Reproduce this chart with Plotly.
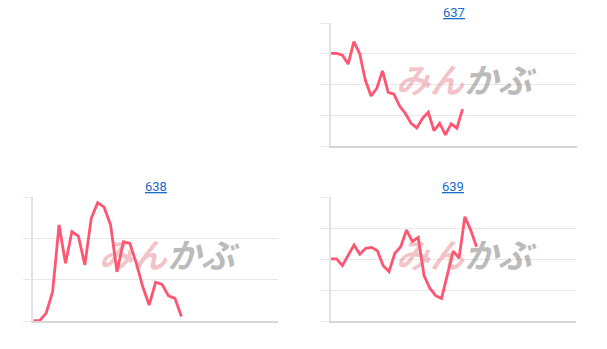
import plotly.graph_objects as go

W, H = 607, 349

titles = ["637", "638", "639"]

vals_637 = [3.02, 3.02, 2.96, 2.67, 3.40, 3.02, 2.15, 1.63, 1.88, 2.45, 1.75, 1.69,
            1.30, 1.06, 0.74, 0.59, 0.90, 1.10, 0.50, 0.74, 0.36, 0.72, 0.58, 1.20]
vals_638 = [0.01, 0.01, 0.19, 0.71, 2.33, 1.40, 2.17, 2.06, 1.36, 2.49, 2.87, 2.76,
            2.33, 1.19, 1.92, 1.88, 1.40, 0.83, 0.39, 0.94, 0.89, 0.61, 0.55, 0.11]
vals_639 = [2.01, 2.01, 1.79, 2.13, 2.46, 2.16, 2.35, 2.38, 2.27, 1.79, 1.60, 2.19,
            2.40, 2.94, 2.57, 2.70, 1.47, 1.06, 0.82, 0.73, 1.49, 2.26, 2.03, 3.37,
            2.94, 2.40]

series = [vals_637, vals_638, vals_639]
x_ranges = [[0, 43], [0, 38], [0, 42]]
y_ranges = [[0, 4], [0, 3], [0, 4]]

# pixel boxes (left, top, right, bottom)
boxes = [(331, 23.3, 577, 146), (33.3, 197.3, 278, 321), (330.7, 197.3, 575.7, 321)]

LINE = "#ff5570"
GRID = "#e8e8e8"

fig = go.Figure()
layout = dict(width=W, height=H, margin=dict(l=0, r=0, t=0, b=0),
              paper_bgcolor="white", plot_bgcolor="white", showlegend=False,
              font=dict(family="Roboto, Liberation Sans, Arial", size=12))
annotations = []

for i, (vals, box) in enumerate(zip(series, boxes)):
    n = "" if i == 0 else str(i + 1)
    l, t, r, b = box
    xd = [l / W, r / W]
    yd = [1 - b / H, 1 - t / H]
    fig.add_trace(go.Scatter(x=list(range(len(vals))), y=vals, mode="lines",
                             line=dict(color=LINE, width=2.8),
                             xaxis="x" + n, yaxis="y" + n, hoverinfo="skip"))
    layout["xaxis" + n] = dict(domain=xd, range=x_ranges[i], showgrid=False,
                               showticklabels=False, zeroline=False, showline=True,
                               linecolor="#d6d6d6", linewidth=1.5, ticks="",
                               anchor="y" + n, fixedrange=True)
    layout["yaxis" + n] = dict(domain=yd, range=y_ranges[i], dtick=1, tick0=0,
                               showgrid=True, gridcolor=GRID, gridwidth=1,
                               showticklabels=False, zeroline=False, showline=True,
                               linecolor="#e2e2e2", linewidth=1.5, ticks="outside",
                               ticklen=9, tickcolor=GRID, tickwidth=1,
                               anchor="x" + n, fixedrange=True)
    cx = (l + r) / 2
    annotations.append(dict(text="<u>" + titles[i] + "</u>", x=cx / W, y=1 - (t - 11) / H,
                            xref="paper", yref="paper", showarrow=False,
                            font=dict(color="#1a6ccc", size=13,
                                      family="Roboto, Liberation Sans, Arial"),
                            xanchor="center", yanchor="middle"))
    wy = (t + b) / 2 - 6
    annotations.append(dict(
        text="<b><i><span style='color:rgba(225,110,125,0.42)'>みん</span>"
             "<span style='color:rgba(120,120,120,0.5)'>かぶ</span></i></b>",
        x=(l + 136) / W, y=1 - wy / H, xref="paper", yref="paper", showarrow=False,
        font=dict(size=34, family="Noto Sans CJK JP"),
        xanchor="center", yanchor="middle"))

layout["annotations"] = annotations
fig.update_layout(**layout)
fig.write_html("out.html")
